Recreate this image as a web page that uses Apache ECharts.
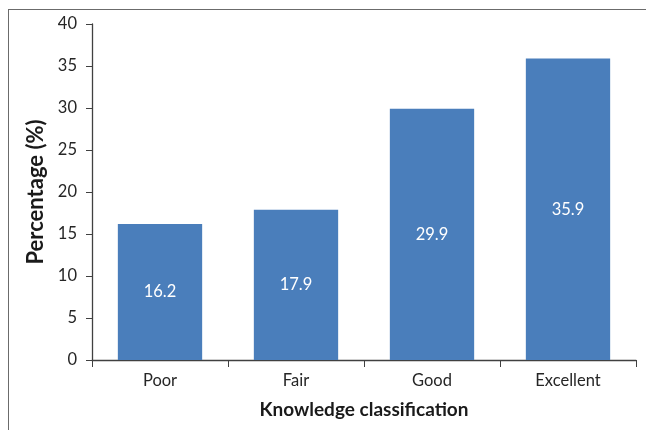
<!DOCTYPE html>
<html>
<head>
<meta charset="utf-8">
<script src="https://cdn.jsdelivr.net/npm/echarts@6/dist/echarts.min.js"></script>
<style>
  html, body { margin: 0; padding: 0; background: #fff; }
  #wrap { position: relative; width: 646px; height: 430px; overflow: hidden; }
  #frame { position: absolute; left: 8px; top: 9px; width: 700px; height: 500px;
           border: 1.5px solid #6b6b6b; box-sizing: border-box; }
  #chart { position: absolute; left: 0; top: 0; width: 646px; height: 430px; }
</style>
</head>
<body>
<div id="wrap">
  <div id="frame"></div>
  <div id="chart"></div>
</div>
<script>
// Knowledge classification results
const categories = ['Poor', 'Fair', 'Good', 'Excellent'];
const percentages = [16.2, 17.9, 29.9, 35.9];
const yTicks = { min: 0, max: 40, interval: 5 };

const font = 'Lato, "Open Sans", sans-serif';
const axisColor = '#404040';

const chart = echarts.init(document.getElementById('chart'), null, { renderer: 'canvas' });
chart.setOption({
  animation: false,
  backgroundColor: 'transparent',
  grid: { left: 92, right: 10, top: 24, bottom: 70, containLabel: false },
  xAxis: {
    type: 'category',
    data: categories,
    name: 'Knowledge classification',
    nameLocation: 'middle',
    nameGap: 40,
    nameTextStyle: { fontFamily: font, fontSize: 19, fontWeight: 'bold', color: '#1a1a1a' },
    axisLine: { lineStyle: { color: axisColor, width: 1.3 } },
    axisTick: { show: true, length: 7, alignWithLabel: false, lineStyle: { color: axisColor } },
    axisLabel: { fontFamily: font, fontSize: 16.5, color: '#262626', margin: 12 }
  },
  yAxis: {
    type: 'value',
    min: yTicks.min,
    max: yTicks.max,
    interval: yTicks.interval,
    name: 'Percentage (%)',
    nameLocation: 'middle',
    nameGap: 42,
    nameRotate: 90,
    nameTextStyle: { fontFamily: font, fontSize: 22, fontWeight: 'bold', color: '#1a1a1a' },
    axisLine: { show: true, lineStyle: { color: axisColor, width: 1.3 } },
    axisTick: { show: true, length: 6, lineStyle: { color: axisColor } },
    axisLabel: { fontFamily: font, fontSize: 16.5, color: '#262626', margin: 15 },
    splitLine: { show: false }
  },
  series: [{
    type: 'bar',
    data: percentages,
    barWidth: '62%',
    itemStyle: { color: '#4A7EBB' },
    label: {
      show: true,
      position: 'inside',
      color: '#ffffff',
      fontFamily: font,
      fontSize: 16.5,
      formatter: p => p.value.toFixed(1)
    }
  }]
});
</script>
</body>
</html>
